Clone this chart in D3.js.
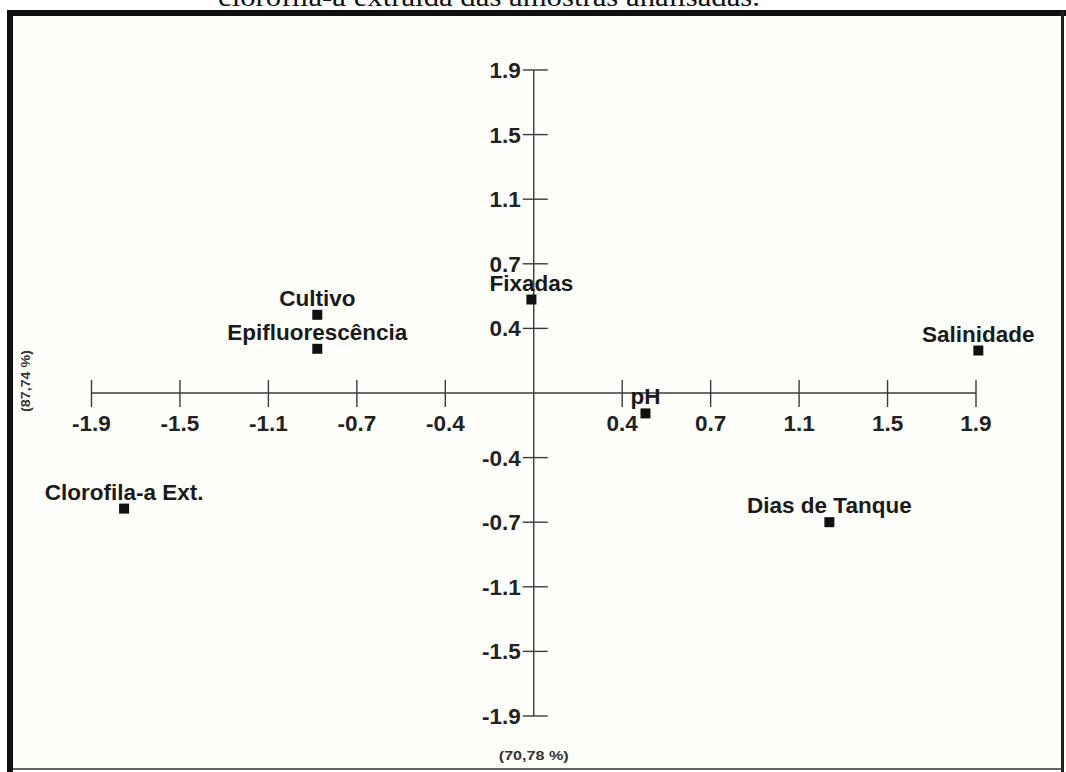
<!DOCTYPE html>
<html><head><meta charset="utf-8">
<script src="https://cdn.jsdelivr.net/npm/d3@7"></script>
<style>
html,body{margin:0;padding:0;background:#fff;}
svg{display:block;}
</style></head>
<body>
<svg id="chart" width="1066" height="772"></svg>
<script>
// ---- data ----
const labels = ["Salinidade","Cultivo","Epifluorescência","Fixadas","pH","Clorofila-a Ext.","Dias de Tanque"];
const xValues = [1.91, -0.93, -0.93, -0.01, 0.48, -1.76, 1.27];
const yValues = [0.25, 0.46, 0.26, 0.55, -0.12, -0.68, -0.76];
const tickValues = [-1.9, -1.52, -1.14, -0.76, -0.38, 0.38, 0.76, 1.14, 1.52, 1.9];
const tickLabels = ["-1.9","-1.5","-1.1","-0.7","-0.4","0.4","0.7","1.1","1.5","1.9"];
const xTitle = "(70,78 %)";
const yTitle = "(87,74 %)";
const captionText = "clorofila-a extraída das amostras analisadas.";

const svg = d3.select("#chart");

// caption (cut off at top)
svg.append("text").attr("x", 489).attr("y", 6).attr("text-anchor","middle")
  .attr("font-family","'Liberation Serif', serif").attr("font-size", 28)
  .attr("textLength", 542).attr("lengthAdjust","spacingAndGlyphs")
  .attr("fill","#111").text(captionText);

// frame
svg.append("rect").attr("x", 9).attr("y", 11).attr("width", 1053).attr("height", 758)
  .attr("fill", "#fefefb").attr("stroke", "#666").attr("stroke-width", 2);
svg.append("rect").attr("x", 7).attr("y", 10).attr("width", 6).attr("height", 762).attr("fill", "#111");
svg.append("rect").attr("x", 7).attr("y", 10).attr("width", 1059).attr("height", 6).attr("fill", "#111");
svg.append("rect").attr("x", 1061).attr("y", 10).attr("width", 3).attr("height", 762).attr("fill", "#222");

const x = d3.scaleLinear().domain([-1.9, 1.9]).range([91.5, 976]);
const y = d3.scaleLinear().domain([-1.9, 1.9]).range([716, 70]);
const lineColor = "#3a3a3a";
const font = "'Liberation Sans', Arial, sans-serif";
const fs = 22.5;

// horizontal axis
const gx = svg.append("g").attr("transform", `translate(0,${y(0)})`);
gx.append("line").attr("x1", x(-1.9)).attr("x2", x(1.9)).attr("stroke", lineColor).attr("stroke-width", 1.4);
gx.selectAll("line.t").data(tickValues).join("line").attr("class","t")
  .attr("x1", d => x(d)).attr("x2", d => x(d)).attr("y1", -13).attr("y2", 14)
  .attr("stroke", lineColor).attr("stroke-width", 1.4);
gx.selectAll("text").data(tickValues).join("text")
  .attr("x", d => x(d)).attr("y", 37.5).attr("text-anchor","middle")
  .attr("font-family", font).attr("font-weight","bold").attr("font-size", fs).attr("fill","#222")
  .text((d,i) => tickLabels[i]);

// vertical axis
const gy = svg.append("g").attr("transform", `translate(${x(0)},0)`);
gy.append("line").attr("y1", y(-1.9)).attr("y2", y(1.9)).attr("stroke", lineColor).attr("stroke-width", 1.4);
gy.selectAll("line.t").data(tickValues).join("line").attr("class","t")
  .attr("y1", d => y(d)).attr("y2", d => y(d)).attr("x1", -11).attr("x2", 14)
  .attr("stroke", lineColor).attr("stroke-width", 1.4);
gy.selectAll("text").data(tickValues).join("text")
  .attr("x", -13).attr("y", d => y(d) + 8).attr("text-anchor","end")
  .attr("font-family", font).attr("font-weight","bold").attr("font-size", fs).attr("fill","#222")
  .text((d,i) => tickLabels[i]);

// axis titles
svg.append("text").attr("x", x(0)).attr("y", 760).attr("text-anchor","middle")
  .attr("font-family", font).attr("font-weight","bold").attr("font-size", 12).attr("fill","#333")
  .attr("textLength", 70).attr("lengthAdjust","spacingAndGlyphs").text(xTitle);
svg.append("text").attr("transform", `translate(30,${y(0) - 12}) rotate(-90)`).attr("text-anchor","middle")
  .attr("font-family", font).attr("font-weight","bold").attr("font-size", 12).attr("fill","#333")
  .attr("textLength", 62).attr("lengthAdjust","spacingAndGlyphs").text(yTitle);

// points
const pts = labels.map((l,i) => ({label:l, x:xValues[i], y:yValues[i]}));
const gp = svg.append("g");
gp.selectAll("rect").data(pts).join("rect")
  .attr("x", d => x(d.x) - 5).attr("y", d => y(d.y) - 5).attr("width", 10).attr("height", 10).attr("fill", "#111");
gp.selectAll("text").data(pts).join("text")
  .attr("x", d => x(d.x)).attr("y", d => y(d.y) - 9).attr("text-anchor","middle")
  .attr("font-family", font).attr("font-weight","bold").attr("font-size", fs).attr("fill","#1a1a1a")
  .text(d => d.label);
</script>
</body></html>
